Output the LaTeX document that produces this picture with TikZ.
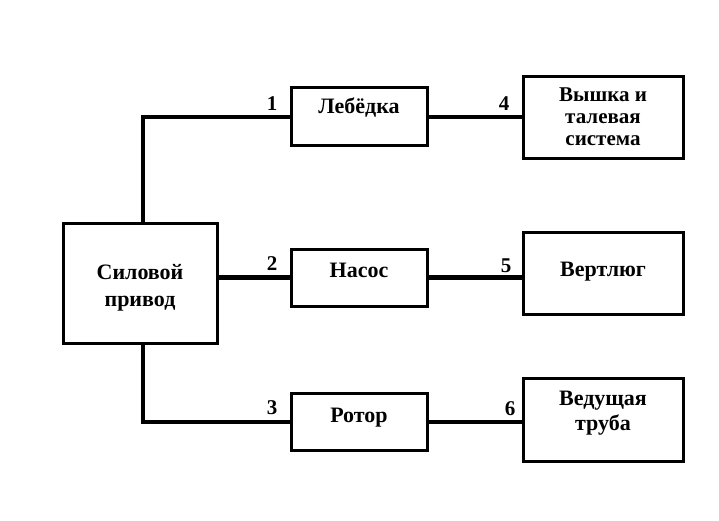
\documentclass[tikz,border=0pt]{standalone}
\usepackage{fontspec}
\setmainfont{Liberation Serif}
\begin{document}
\begin{tikzpicture}[x=1pt,y=-1pt,
  blk/.style={draw,line width=3pt,rectangle,inner sep=0pt},
  txt/.style={anchor=base,align=center,inner sep=0pt,font=\bfseries\fontsize{22}{25}\selectfont},
  conn/.style={line width=4.2pt},
  num/.style={anchor=base,inner sep=0pt,font=\bfseries\fontsize{21}{22}\selectfont}]
\useasboundingbox (0,0) rectangle (719,520);
\node[blk,minimum width=154pt,minimum height=120pt] (drive) at (140,283) {};
\node[blk,minimum width=136pt,minimum height=58pt] (winch) at (359,116) {};
\node[blk,minimum width=136pt,minimum height=57pt] (pump) at (359,277.5) {};
\node[blk,minimum width=136pt,minimum height=57pt] (rotor) at (359,421.5) {};
\node[blk,minimum width=160pt,minimum height=82pt] (tower) at (603,117) {};
\node[blk,minimum width=160pt,minimum height=82pt] (swivel) at (603,273) {};
\node[blk,minimum width=160pt,minimum height=83pt] (kelly) at (603,419.5) {};
\node[txt,font=\bfseries\fontsize{22}{27}\selectfont] (tdrive) at (140,306) {Силовой\\привод};
\node[txt] (twinch) at (359,113) {Лебёдка};
\node[txt] (tpump) at (359,277) {Насос};
\node[txt] (trotor) at (359,422) {Ротор};
\node[txt,font=\bfseries\fontsize{21}{22}\selectfont] (ttower) at (603,145) {Вышка и\\талевая\\система};
\node[txt] (tswivel) at (603,276) {Вертлюг};
\node[txt] (tkelly) at (603,430) {Ведущая\\труба};
\coordinate (c1) at (143,117);
\coordinate (c3) at (143,422);
\draw[conn] (drive.north -| c1) -- (c1) -- (c1 -| winch.west);
\draw[conn] (drive.east |- pump.west) -- (pump.west);
\draw[conn] (drive.south -| c3) -- (c3) -- (c3 -| rotor.west);
\draw[conn] (winch.east |- c1) -- (c1 -| tower.west);
\draw[conn] (pump.east) -- (pump.east -| swivel.west);
\draw[conn] (rotor.east |- c3) -- (c3 -| kelly.west);
\node[num] (n1) at (272,110) {1};
\node[num] (n2) at (272,270) {2};
\node[num] (n3) at (272,414) {3};
\node[num] (n4) at (504,110) {4};
\node[num] (n5) at (506,272) {5};
\node[num] (n6) at (510,415) {6};
\end{tikzpicture}
\end{document}
